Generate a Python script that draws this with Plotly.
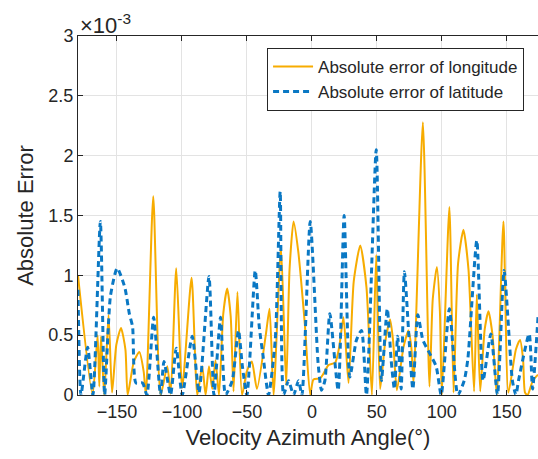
import plotly.graph_objects as go

# absolute error of longitude (x1e-3)
lon_angle = [-180, -168.8, -164.9, -163.6, -162.3, -159.8, -156.5, -153.8, -150.5, -146.9,
             -143.5, -141.8, -137, -132.8, -129.5, -127.7, -122.1, -116.4, -111.3, -108.7,
             -104.4, -99.8, -92.6, -88.2, -84.4, -81.8, -79.2, -76.7, -74.2, -71.5,
             -68.2, -65.2, -62.5, -60.3, -57.3, -53.8, -50, -46.2, -42.3, -35.5,
             -32.6, -29.5, -23.8, -19.8, -17.2, -14.1, -10.5, -5.5, -1.3, 1.2,
             6.4, 10, 12.8, 17.9, 21, 24.3, 28.2, 32.2, 37.2, 42,
             46.2, 49.5, 52.5, 56.5, 60.2, 62.5, 65.4, 70.5, 74.3, 76.5,
             78.2, 85.4, 90.5, 93, 96.2, 98.5, 100, 105.8, 109, 112.5,
             116.6, 120.5, 124.8, 126.9, 129.5, 133, 135.9, 139, 142.3, 147.4,
             151.2, 157, 160.2, 162.5, 164, 166, 170, 174]
lon_err = [1.0, 0.0, 0.5, 0.07, 0.49, 0.0, 0.67, 0.02, 0.42, 0.56,
           0.38, 0.0, 0.28, 0.36, 0.2, 0.0, 1.66, 0.0, 0.24, 0.01,
           1.06, 0.06, 0.98, 0.0, 0.24, 0.0, 0.24, 0.05, 0.29, 0.0,
           0.68, 0.89, 0.66, 0.03, 0.86, 0.0, 0.2, 0.28, 0.05, 0.5,
           0.72, 0.0, 1.24, 0.08, 1.05, 1.45, 1.2, 0.6, 0.0, 0.13,
           0.14, 0.2, 0.25, 0.27, 0.4, 0.65, 0.1, 0.95, 1.25, 0.9,
           0.0, 1.17, 0.05, 0.45, 0.63, 0.45, 0.04, 0.4, 0.54, 0.4,
           0.1, 2.28, 0.07, 0.8, 1.07, 0.7, 0.0, 1.57, 0.02, 1.1,
           1.38, 1.05, 0.03, 0.84, 0.03, 0.55, 0.7, 0.5, 0.0, 1.45,
           0.02, 0.38, 0.46, 0.3, 0.02, 0.0, 0.12, 0.17]

# absolute error of latitude (x1e-3)
lat_angle = [-180, -177.7, -172.6, -168.5, -162.8, -159.5, -155, -149.8, -144, -140.5,
             -138, -135.4, -130.3, -127, -121.8, -116.5, -113.8, -108.8, -104.4, -99.8,
             -92.1, -86.9, -79.2, -75.4, -70.3, -66.5, -61.3, -56.5, -53.5, -50,
             -43.6, -40.5, -37.5, -33.4, -28.2, -24.4, -21.8, -18, -14.1, -10.3,
             -7.7, -1.3, 4.8, 7.4, 10, 13.8, 20.2, 24.8, 29.2, 34.3,
             38.2, 42, 49.5, 53.5, 58, 61, 63.5, 66, 68.7, 71.2,
             77.7, 81.5, 85.4, 90.5, 95.6, 99.5, 105.8, 112.3, 117.2, 120,
             126.9, 131.7, 137.7, 142.8, 147.9, 154.3, 157, 159, 167.2, 169.8,
             174]
lat_err = [0.88, 0.0, 0.4, 0.0, 1.45, 0.0, 0.83, 1.06, 0.9, 0.68,
           0.57, 0.1, 0.1, 0.0, 0.65, 0.0, 0.28, 0.0, 0.39, 0.0,
           0.49, 0.02, 0.99, 0.0, 0.65, 0.0, 0.12, 0.54, 0.24, 0.0,
           1.04, 0.57, 0.32, 0.0, 0.46, 1.7, 0.0, 0.12, 0.0, 0.12,
           0.0, 1.45, 0.26, 0.04, 0.12, 0.68, 0.04, 1.5, 0.15, 0.46,
           0.54, 0.0, 2.05, 0.12, 0.72, 0.29, 0.05, 0.49, 0.05, 1.03,
           0.05, 0.67, 0.46, 0.35, 0.24, 0.0, 0.72, 0.0, 0.12, 0.3,
           1.29, 0.12, 0.51, 0.0, 1.04, 0.12, 0.0, 0.12, 0.51, 0.05,
           0.65]

x_ticks = [-150, -100, -50, 0, 50, 100, 150]
y_ticks = [0, 0.5, 1, 1.5, 2, 2.5, 3]
y_ticklabels = ['0', '0.5', '1', '1.5', '2', '2.5', '3']

font = 'Liberation Sans, Arial, sans-serif'
ink = '#262626'

fig = go.Figure()
fig.add_trace(go.Scatter(x=lon_angle, y=lon_err, mode='lines', name='Absolute error of longitude',
                         line=dict(color='#F7AC00', width=2, shape='spline', smoothing=0.6)))
fig.add_trace(go.Scatter(x=lat_angle, y=lat_err, mode='lines', name='Absolute error of latitude',
                         line=dict(color='#0A78C4', width=3, dash='6px,4px', shape='spline', smoothing=0.6)))

fig.update_layout(
    width=538, height=459,
    margin=dict(l=78, r=0, t=36, b=64),
    paper_bgcolor='white', plot_bgcolor='white',
    font=dict(family=font, color=ink, size=17),
    showlegend=True,
    legend=dict(x=0.411, y=0.967, xanchor='left', yanchor='top',
                bgcolor='white', bordercolor=ink, borderwidth=1, itemwidth=40,
                font=dict(size=17, family=font, color=ink), tracegroupgap=0),
    xaxis=dict(range=[-180, 174], tickvals=x_ticks, ticks='inside', ticklen=5,
               tickcolor=ink, showline=True, linecolor=ink, linewidth=1, mirror='ticks',
               showgrid=True, gridcolor='#E3E3E3', zeroline=False, automargin=False,
               tickfont=dict(size=18), title=dict(text='Velocity Azimuth Angle(°)',
                                                  font=dict(size=22), standoff=9)),
    yaxis=dict(range=[0, 3], tickvals=y_ticks, ticktext=y_ticklabels, ticks='inside',
               ticklen=5, tickcolor=ink, showline=True, linecolor=ink, linewidth=1,
               showgrid=True, gridcolor='#E3E3E3', zeroline=False, automargin=False,
               tickfont=dict(size=18), title=dict(text='Absolute Error', font=dict(size=22),
                                                  standoff=8)),
    annotations=[dict(text='×10<sup>-3</sup>', x=0, y=1, xref='paper', yref='paper',
                      xanchor='left', yanchor='bottom', showarrow=False,
                      font=dict(size=22, family=font, color=ink), yshift=-4)],
)

# drop the default page margin so the figure fills the window without scrollbars
fig.write_html("out.html", config={'displayModeBar': False},
               post_script="document.body.style.margin='0';document.body.style.overflow='hidden';")
